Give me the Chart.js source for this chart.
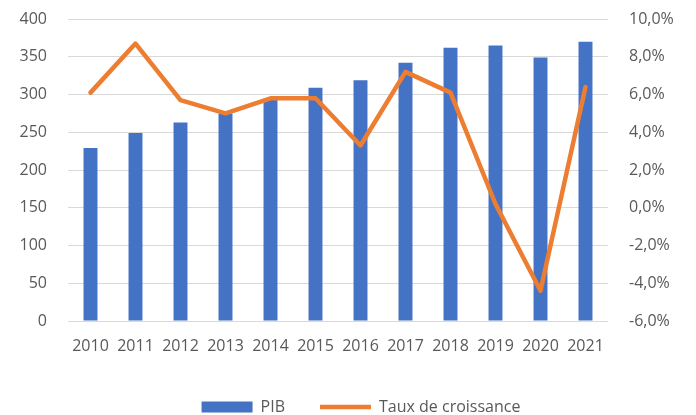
<!DOCTYPE html>
<html>
<head>
<meta charset="utf-8">
<script src="https://cdn.jsdelivr.net/npm/chart.js@4"></script>
<style>
    html, body { margin: 0; padding: 0; background: #fff; }
    #wrap { width: 696px; height: 415px; }
</style>
</head>
<body>
<div id="wrap"><canvas id="myChart"></canvas></div>
<script>
const years = ['2010', '2011', '2012', '2013', '2014', '2015', '2016', '2017', '2018', '2019', '2020', '2021'];
const pib = [229, 249, 263, 275, 295, 309, 319, 342, 362, 365, 349, 370];
const croissance = [6.1, 8.7, 5.7, 5.0, 5.8, 5.8, 3.3, 7.2, 6.1, 0.2, -4.4, 6.4];
const pibTicks = [0, 400, 50];
const tauxTicks = [-6, 10, 2];

const gray = '#595959';
const font = { family: 'Open Sans', size: 16 };

// Excel puts the legend a bit right of centre
const shiftLegend = {
    id: 'shiftLegend',
    afterLayout(chart) {
        chart.legend.left += 26;
    }
};

// fixed width, and no extra vertical room for the tick padding
function fitY(width) {
    return function (scale) {
        scale.width = width;
        scale.paddingTop = 0;
        scale.paddingBottom = 0;
    };
}

function loadChart() {
    const ctx = document.getElementById('myChart');

    new Chart(ctx, {
        type: 'bar',
        data: {
            labels: years,
            datasets: [{
                label: 'PIB',
                data: pib,
                backgroundColor: '#4472C4',
                borderWidth: 0,
                barPercentage: 0.31,
                categoryPercentage: 1,
                pointStyle: 'rect',
                yAxisID: 'y',
                order: 1
            },
            {
                type: 'line',
                label: 'Taux de croissance',
                data: croissance,
                borderColor: '#ED7D31',
                backgroundColor: '#ED7D31',
                borderWidth: 4.5,
                borderJoinStyle: 'round',
                borderCapStyle: 'round',
                tension: 0,
                pointRadius: 0,
                pointStyle: 'line',
                yAxisID: 'y2',
                order: 0
            }]
        },
        options: {
            responsive: true,
            maintainAspectRatio: false,
            animation: false,
            layout: {
                padding: { top: 19, bottom: -10 }
            },
            plugins: {
                legend: {
                    position: 'bottom',
                    labels: {
                        usePointStyle: true,
                        pointStyleWidth: 51,
                        boxHeight: 11,
                        padding: 35,
                        color: gray,
                        font: font,
                        sort: (a, b) => a.datasetIndex - b.datasetIndex
                    }
                },
                tooltip: { enabled: false }
            },
            scales: {
                x: {
                    grid: { display: false, drawTicks: false },
                    border: { display: false },
                    ticks: {
                        color: gray,
                        font: font,
                        padding: 16,
                        maxRotation: 0,
                        autoSkip: false
                    },
                    afterFit: function (scale) {
                        scale.height = 43;
                    }
                },
                y: {
                    position: 'left',
                    min: pibTicks[0],
                    max: pibTicks[1],
                    ticks: {
                        stepSize: pibTicks[2],
                        color: gray,
                        font: font,
                        padding: 21
                    },
                    grid: { color: '#D9D9D9', lineWidth: 1, drawTicks: false },
                    border: { display: false },
                    afterFit: fitY(68)
                },
                y2: {
                    position: 'right',
                    min: tauxTicks[0],
                    max: tauxTicks[1],
                    ticks: {
                        stepSize: tauxTicks[2],
                        color: gray,
                        font: font,
                        padding: 21,
                        callback: function (v) {
                            return v.toFixed(1).replace('.', ',') + '%';
                        }
                    },
                    grid: { display: false, drawTicks: false },
                    border: { display: false },
                    afterFit: fitY(88)
                }
            }
        },
        plugins: [shiftLegend]
    });
}

loadChart();
</script>
</body>
</html>
